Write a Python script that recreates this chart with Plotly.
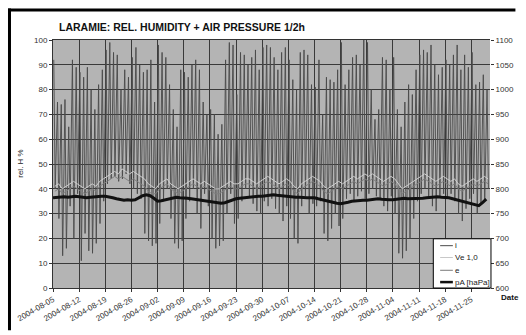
import pandas as pd
import plotly.graph_objects as go

start_day = "2004-08-05"
n_days = 117

# rel. humidity "i": daily maximum / minimum (%)
i_max = [92, 75, 74, 76, 65, 92, 89,
         87, 85, 89, 80, 72, 82, 88,
         96, 99, 95, 94, 80, 88, 85,
         93, 97, 90, 87, 88, 92, 75,
         98, 95, 93, 82, 72, 65, 88,
         87, 85, 90, 92, 88, 75, 70,
         72, 70, 62, 66, 92, 99, 98,
         78, 95, 94, 90, 93, 96, 88,
         97, 98, 97, 93, 88, 95, 97,
         92, 84, 80, 95, 96, 94, 82,
         81, 92, 70, 85, 84, 83, 88,
         99, 82, 88, 93, 94, 90, 100,
         99, 80, 68, 72, 93, 92, 80,
         93, 72, 65, 75, 82, 78, 88,
         94, 96, 95, 98, 90, 86, 89,
         92, 90, 94, 98, 88, 94, 89,
         95, 82, 83, 86, 80]
i_min = [40, 28, 13, 16, 33, 20, 38,
         11, 22, 15, 14, 18, 26, 35,
         42, 44, 45, 43, 44, 46, 42,
         40, 38, 36, 22, 19, 17, 18,
         26, 35, 40, 28, 18, 16, 19,
         28, 35, 40, 30, 24, 38, 33,
         20, 16, 17, 19, 30, 38, 26,
         28, 35, 40, 37, 34, 31, 30,
         35, 33, 36, 32, 30, 27, 33,
         28, 20, 18, 33, 37, 30, 34,
         33, 35, 22, 19, 24, 30, 25,
         28, 36, 38, 35, 37, 39, 36,
         38, 40, 37, 36, 33, 31, 37,
         30, 14, 12, 15, 20, 28, 35,
         38, 40, 36, 33, 31, 37, 38,
         36, 38, 35, 30, 27, 32, 36,
         38, 30, 34, 35, 40]
ve_vals = [41, 42, 40, 41, 42, 43, 42,
           41, 40, 41, 42, 41, 43, 44,
           45, 46, 47, 46, 48, 47, 46,
           47, 46, 45, 44, 42, 41, 40,
           42, 43, 44, 42, 41, 40, 41,
           42, 43, 44, 43, 42, 43, 42,
           41, 40, 40, 41, 42, 43, 42,
           42, 43, 44, 44, 43, 42, 43,
           44, 45, 44, 43, 42, 43, 44,
           43, 41, 40, 42, 43, 44, 45,
           44, 43, 41, 40, 41, 42, 43,
           42, 43, 44, 45, 44, 45, 46,
           45, 46, 45, 44, 43, 44, 45,
           44, 42, 40, 41, 42, 43, 44,
           45, 46, 45, 44, 43, 44, 45,
           44, 43, 44, 42, 41, 42, 43,
           44, 43, 44, 45, 44]
e_vals = [39, 40, 38, 39, 40, 41, 40,
          39, 38, 39, 40, 39, 41, 42,
          43, 44, 45, 44, 45, 44, 43,
          44, 43, 42, 41, 39, 38, 38,
          40, 41, 42, 40, 39, 38, 39,
          40, 41, 42, 41, 40, 41, 40,
          39, 38, 38, 39, 40, 41, 40,
          40, 41, 42, 42, 41, 40, 41,
          42, 43, 42, 41, 40, 41, 42,
          41, 39, 38, 40, 41, 42, 43,
          42, 41, 39, 38, 39, 40, 41,
          40, 41, 42, 43, 42, 43, 44,
          43, 44, 43, 42, 41, 42, 43,
          42, 40, 38, 39, 40, 41, 42,
          43, 44, 43, 42, 41, 42, 43,
          42, 41, 42, 40, 39, 40, 41,
          42, 41, 42, 43, 42]
pa_vals = [782, 783, 784, 784, 783, 784, 785,
           784, 783, 782, 783, 784, 785, 785,
           785, 784, 782, 780, 778, 777, 778,
           777, 778, 782, 786, 788, 786, 781,
           775, 776, 778, 780, 782, 783, 782,
           782, 781, 780, 779, 778, 777, 776,
           775, 773, 772, 771, 772, 775, 778,
           780, 781, 782, 783, 784, 785, 785,
           785, 786, 787, 788, 787, 786, 786,
           785, 784, 783, 783, 782, 782, 782,
           782, 780, 778, 776, 774, 772, 771,
           770, 771, 773, 775, 776, 777, 777,
           777, 778, 779, 780, 779, 778, 778,
           778, 779, 780, 781, 780, 780, 780,
           780, 781, 782, 783, 784, 784, 783,
           783, 782, 780, 778, 776, 774, 772,
           771, 768, 766, 772, 779]

days = pd.date_range(start_day, periods=n_days, freq="D")
i_x, i_y = [], []
for d, hi, lo in zip(days, i_max, i_min):
    i_x += [d + pd.Timedelta(hours=5), d + pd.Timedelta(hours=14)]
    i_y += [hi, lo]
mid_x = [d + pd.Timedelta(hours=12) for d in days]

fig = go.Figure()
fig.add_trace(go.Scatter(x=i_x, y=i_y, mode="lines", name="i",
                         line=dict(color="#4a4a4a", width=0.9), showlegend=False))
fig.add_trace(go.Scatter(x=mid_x, y=e_vals, mode="lines", name="e",
                         line=dict(color="#808080", width=1), showlegend=False))
fig.add_trace(go.Scatter(x=mid_x, y=ve_vals, mode="lines", name="Ve 1,0",
                         line=dict(color="#cfcfcf", width=1), showlegend=False))
fig.add_trace(go.Scatter(x=list(days), y=pa_vals, mode="lines", name="pA [haPa]",
                         yaxis="y2", line=dict(color="#111111", width=3), showlegend=False))

W, H = 526, 335
L, R, T, B = 53, 26, 40, 43
pw, ph = W - L - R, H - T - B

def px(x):
    return (x - L) / pw

def py(y):
    return (H - B - y) / ph

tickfont = dict(family="Liberation Sans, Arial", size=8, color="#333333")

fig.update_layout(
    width=W, height=H,
    margin=dict(l=L, r=R, t=T, b=B),
    paper_bgcolor="white",
    plot_bgcolor="#b4b4b4",
    font=dict(family="Liberation Sans, Arial", size=8, color="#222222"),
    xaxis=dict(type="date", range=["2004-08-05", "2004-11-30"],
               tick0="2004-08-05", dtick=7 * 86400000, tickformat="%Y-%m-%d",
               tickangle=-30, tickfont=tickfont, showgrid=True,
               gridcolor="#3a3a3a", gridwidth=1, showline=True, linecolor="#333333",
               mirror=True, ticks="outside", ticklen=3, tickcolor="#333333", zeroline=False),
    yaxis=dict(range=[0, 100], dtick=10, tickfont=tickfont, showgrid=True,
               gridcolor="#3a3a3a", gridwidth=1, showline=True, linecolor="#333333",
               ticks="outside", ticklen=3, tickcolor="#333333", zeroline=False),
    yaxis2=dict(range=[600, 1100], dtick=50, overlaying="y", side="right",
                tickfont=tickfont, showgrid=False, showline=False,
                ticks="outside", ticklen=3, tickcolor="#333333", zeroline=False),
    showlegend=False,
)

shapes = [
    # outer frame: top and left edges only
    dict(type="line", xref="paper", yref="paper", x0=px(7), x1=px(526), y0=py(9.5), y1=py(9.5),
         line=dict(color="black", width=3), layer="above"),
    dict(type="line", xref="paper", yref="paper", x0=px(8.5), x1=px(8.5), y0=py(8), y1=py(335),
         line=dict(color="black", width=3), layer="above"),
    # legend box
    dict(type="rect", xref="paper", yref="paper", x0=px(442), x1=px(501), y0=py(292), y1=py(242),
         line=dict(color="black", width=1), fillcolor="white", layer="above"),
]
legend_items = [("i", "#4a4a4a", 1, 249), ("Ve 1,0", "#c8c8c8", 1, 261),
                ("e", "#7a7a7a", 1, 274), ("pA [haPa]", "#111111", 2.5, 286)]
annotations = []
for name, col, w, yy in legend_items:
    shapes.append(dict(type="line", xref="paper", yref="paper", x0=px(449), x1=px(462),
                       y0=py(yy), y1=py(yy), line=dict(color=col, width=w), layer="above"))
    annotations.append(dict(text=name, xref="paper", yref="paper", x=px(462), y=py(yy),
                            xanchor="left", yanchor="middle", showarrow=False,
                            font=dict(size=8, color="#222222")))

annotations += [
    dict(text="<b>LARAMIE: REL. HUMIDITY + AIR PRESSURE 1/2h</b>", xref="paper", yref="paper",
         x=px(57), y=py(27), xanchor="left", yanchor="middle", showarrow=False,
         font=dict(size=10.5, color="#111111")),
    dict(text="rel. H %", xref="paper", yref="paper", x=px(19), y=py(166), textangle=-90,
         xanchor="center", yanchor="middle", showarrow=False, font=dict(size=8, color="#222222")),
    dict(text="<b>Date</b>", xref="paper", yref="paper", x=px(509), y=py(302),
         xanchor="left", yanchor="middle", showarrow=False, font=dict(size=8, color="#111111")),
]
fig.update_layout(shapes=shapes, annotations=annotations)

fig.write_html("out.html")
